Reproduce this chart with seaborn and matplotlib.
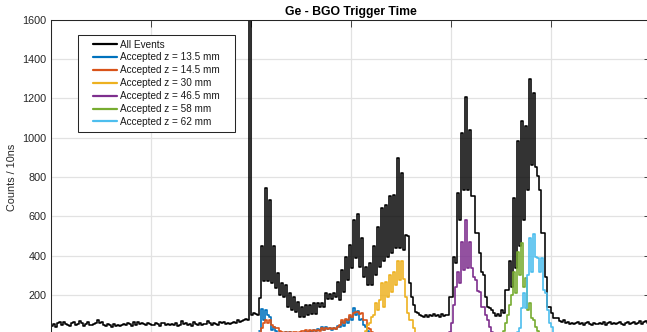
import numpy as np
import matplotlib
matplotlib.use("Agg")
import matplotlib.pyplot as plt
import seaborn as sns
from matplotlib.lines import Line2D
from matplotlib.patches import Rectangle

# Time binning (ns)
T0 = -1000
BIN = 10
X_TICKS = [-1000, -500, 0, 500, 1000, 1500, 2000]
Y_TICKS = [200, 400, 600, 800, 1000, 1200, 1400, 1600]
Y_RANGE = (0, 1600)

# All events, one value per 10 ns bin starting at T0
all_baseline_left = [
    45, 52, 40, 58, 62, 48, 66, 55, 50, 44,
    57, 63, 48, 52, 70, 60, 45, 55, 62, 50,
    48, 53, 60, 75, 58, 65, 50, 42, 55, 48,
    40, 52, 45, 47, 44, 50, 55, 48, 58, 53,
    45, 62, 50, 66, 55, 58, 52, 47, 60, 54,
    50, 48, 56, 52, 45, 58, 60, 50, 55, 47,
    52, 48, 57, 45, 50, 68, 55, 60, 48, 52,
    45, 62, 55, 50, 58, 47, 55, 52, 68, 57,
    50, 60, 55, 48, 62, 57, 65, 55, 60, 52,
    58, 65, 60, 72, 62, 70, 75, 80, 72,
]
all_prompt = [2600, 100, 110, 105, 100, 185]
all_peaks = [
    450, 270, 745, 270, 685, 262, 447, 237, 313, 201, 262, 191, 252, 141, 211, 125, 192, 116, 167, 91,
    141, 91, 150, 100, 150, 105, 160, 105, 160, 141, 160, 141, 211, 180, 206, 180, 211, 192, 269, 175,
    328, 218, 396, 277, 455, 338, 583, 389, 613, 345, 491, 294, 345, 252, 364, 252, 447, 303, 547, 345,
    645, 371, 659, 396, 701, 415, 710, 440, 898, 440, 820, 430, 506, 500, 262, 191, 150, 116, 109, 100,
    95, 90, 98, 88, 100, 92, 105, 95, 100, 90, 105, 95, 100, 100, 192, 192, 396, 364, 720, 583,
    1025, 735, 1207, 735, 1041, 701, 701, 516, 516, 413, 320, 300, 192, 141, 135, 125, 110, 95, 105, 95,
    125, 110, 226, 226, 371, 243, 693, 340, 981, 450, 1083, 583, 1060, 735, 1300, 862, 1228, 850, 803, 735,
    516, 516, 294, 141, 141, 109, 84, 84, 84,
]
all_baseline_right = [
    70, 62, 75, 58, 66, 55, 60, 52, 58, 62,
    55, 60, 50, 58, 62, 55, 48, 60, 55, 52,
    60, 55, 62, 50, 58, 65, 55, 60, 52, 58,
    62, 55, 50, 60, 65, 52, 58, 62, 55, 60,
    68, 55, 62, 70, 58, 62,
]
all_events = all_baseline_left + all_prompt + all_peaks + all_baseline_right

# Accepted events per z position: first bin start time (ns) and counts
z13_5_start = 40
z13_5 = [
    20, 130, 74, 125, 99, 91, 22, 40, 20, 10,
    15, 5, 8, 12, 10, 12, 6, 10, 5, 8,
    5, 10, 8, 15, 10, 20, 15, 25, 20, 30,
    25, 40, 25, 40, 30, 35, 25, 35, 30, 45,
    40, 65, 45, 74, 60, 90, 74, 134, 99, 120,
    74, 80, 48, 40, 20, 10, 0, 0,
]
z14_5_start = 40
z14_5 = [
    10, 33, 60, 74, 58, 74, 48, 40, 33, 33,
    20, 12, 10, 15, 8, 12, 10, 15, 12, 10,
    15, 20, 18, 25, 15, 22, 18, 25, 20, 25,
    20, 33, 25, 33, 30, 33, 28, 35, 30, 40,
    48, 74, 58, 80, 74, 99, 90, 110, 116, 116,
    105, 111, 74, 74, 33, 30, 15, 0,
]
z30_start = 560
z30 = [
    0, 20, 48, 58, 91, 99, 160, 125, 175, 262,
    141, 269, 192, 300, 218, 320, 250, 371, 277, 371,
    280, 192, 109, 74, 74, 33, 10, 0,
]
z46_5_start = 980
z46_5 = [
    0, 14, 58, 150, 243, 315, 262, 472, 328, 581,
    337, 469, 337, 294, 277, 222, 218, 141, 141, 99,
    74, 40, 14, 0, 0,
]
z58_start = 1250
z58 = [
    0, 20, 58, 99, 150, 201, 320, 211, 421, 303,
    463, 243, 287, 125, 160, 84, 74, 40, 20, 0,
]
z62_start = 1320
z62 = [
    0, 15, 33, 135, 211, 135, 300, 491, 320, 511,
    396, 389, 320, 389, 226, 211, 125, 58, 40, 0,
]

series = [
    ("All Events", T0, all_events, "#000000", 1.15),
    ("Accepted z = 13.5 mm", z13_5_start, z13_5, "#0072BD", 1.2),
    ("Accepted z = 14.5 mm", z14_5_start, z14_5, "#D95319", 1.2),
    ("Accepted z = 30 mm", z30_start, z30, "#EDB120", 1.2),
    ("Accepted z = 46.5 mm", z46_5_start, z46_5, "#7E2F8E", 1.2),
    ("Accepted z = 58 mm", z58_start, z58, "#77AC30", 1.2),
    ("Accepted z = 62 mm", z62_start, z62, "#4DBEEE", 1.2),
]

sns.set_style("white")
plt.rcParams["font.family"] = ["Liberation Sans", "DejaVu Sans"]
TXT = "#262626"

W, H = 647, 332
fig = plt.figure(figsize=(W / 100, H / 100), dpi=100)
ax = fig.add_axes([51 / W, -2.5 / H, 600 / W, 315 / H])

for label, start, counts, color, lw in series:
    counts = np.asarray(counts, dtype=float)
    edges = start + BIN * np.arange(len(counts) + 1)
    centers = edges[:-1] + BIN / 2
    sns.histplot(x=centers, weights=counts, bins=edges.tolist(), element="step",
                 fill=False, color=color, linewidth=lw, ax=ax)

ax.set_xlim(X_TICKS[0], X_TICKS[-1])
ax.set_ylim(*Y_RANGE)
ax.set_xticks(X_TICKS)
ax.set_yticks(Y_TICKS)
ax.grid(True, color="#e2e2e2", linewidth=0.9)
ax.set_axisbelow(True)
ax.tick_params(direction="in", length=4.8, width=0.6, colors=TXT,
               labelsize=7.8, pad=3.1, top=True, right=True,
               labelbottom=False)
for sp in ax.spines.values():
    sp.set_color(TXT)
    sp.set_linewidth(0.75)

ax.set_xlabel("")
ax.set_ylabel("Counts / 10ns", fontsize=7.8, color=TXT)
ax.yaxis.set_label_coords(-0.057, 0.5)
ax.set_title("Ge - BGO Trigger Time", fontsize=8.8, fontweight="bold",
             pad=3.3, color="black")

handles = [Line2D([], [], color=s[3], linewidth=1.6) for s in series]
labels = [s[0] for s in series]
leg = ax.legend(handles, labels, loc="upper left",
                bbox_to_anchor=(93 / W, 1 - 39.5 / H),
                bbox_transform=fig.transFigure, frameon=False,
                borderpad=0, borderaxespad=0, handlelength=2.4,
                handletextpad=0.25, labelspacing=0.29, fontsize=7.2)
for t in leg.get_texts():
    t.set_color("#1a1a1a")
leg.set_zorder(6)

# Legend frame with wider side padding
fig.canvas.draw()
bb = leg.get_window_extent()
x0, y0 = bb.x0 - 15, bb.y0 - 5
frame = Rectangle((x0 / W, y0 / H), (bb.width + 31) / W, (bb.height + 9.5) / H,
                  transform=fig.transFigure, facecolor="white",
                  edgecolor=TXT, linewidth=0.75, zorder=5.5, clip_on=False)
ax.add_patch(frame)

fig.savefig("out.png", dpi=100)
